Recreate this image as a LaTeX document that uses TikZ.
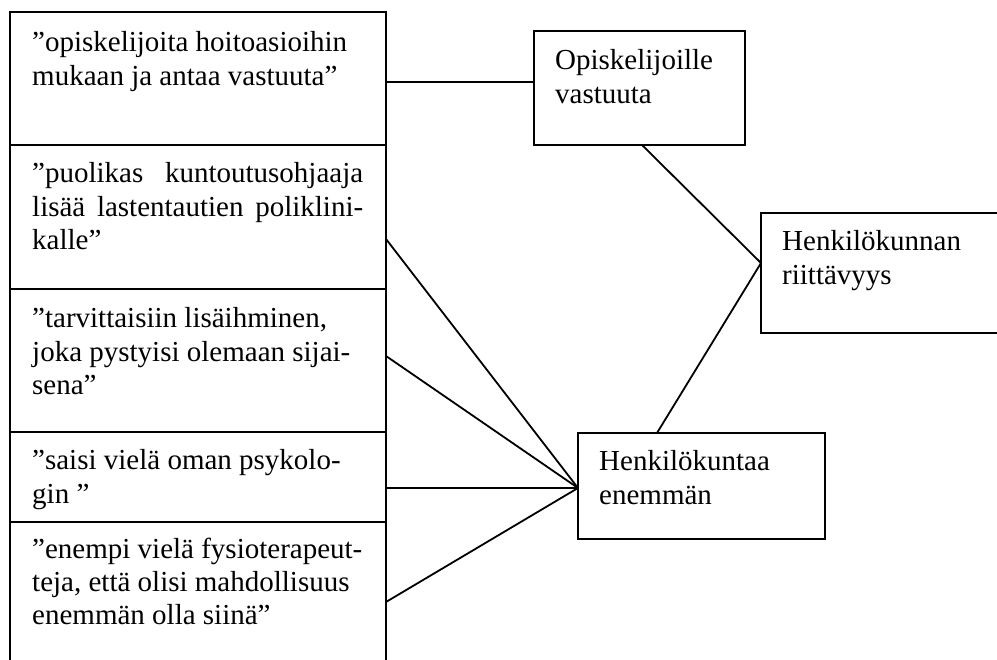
\documentclass[tikz,border=0pt]{standalone}
\usepackage{fontspec}
\setmainfont{Liberation Serif}
\begin{document}
\begin{tikzpicture}[x=1pt,y=-1pt,
  box/.style={draw, line width=1.8pt, rectangle, outer sep=0pt, inner sep=0pt, anchor=north west},
  txt/.style={anchor=base west, inner sep=0pt, font=\fontsize{29}{33.3}\selectfont},
  link/.style={line width=1.8pt}]
\useasboundingbox (0,0) rectangle (997,660);
\clip (0,0) rectangle (997,660);

% quotations, stacked in one column
\node[box, minimum width=376pt, minimum height=133pt] (q1) at (10,12) {};
\node[box, minimum width=376pt, minimum height=144pt] (q2) at (10,145) {};
\node[box, minimum width=376pt, minimum height=143pt] (q3) at (10,289) {};
\node[box, minimum width=376pt, minimum height=90pt]  (q4) at (10,432) {};
\node[box, minimum width=376pt, minimum height=160pt] (q5) at (10,522) {};

\node[txt] (t1) at ([shift={(22,40)}]q1.north west)
  {\parbox[t]{331pt}{\raggedright ”opiskelijoita hoitoasioihin\\mukaan ja antaa vastuuta”}};
\node[txt] (t2) at ([shift={(22,38)}]q2.north west)
  {\parbox[t]{331pt}{\makebox[331pt][s]{”puolikas kuntoutusohjaaja}\\\makebox[331pt][s]{lisää lastentautien poliklini-}\\kalle”}};
\node[txt] (t3) at ([shift={(22,39)}]q3.north west)
  {\parbox[t]{331pt}{\raggedright ”tarvittaisiin lisäihminen,\\joka pystyisi olemaan sijai-\\sena”}};
\node[txt] (t4) at ([shift={(22,38)}]q4.north west)
  {\parbox[t]{331pt}{\raggedright ”saisi vielä oman psykolo-\\gin ”}};
\node[txt] (t5) at ([shift={(22,36)}]q5.north west)
  {\parbox[t]{331pt}{\raggedright ”enempi vielä fysioterapeut-\\teja, että olisi mahdollisuus\\enemmän olla siinä”}};

% categories
\node[box, minimum width=211pt, minimum height=114pt] (s1) at (534,31) {};
\node[box, minimum width=247pt, minimum height=106pt] (s2) at (578,433) {};
\node[box, minimum width=260pt, minimum height=120pt] (top) at (761,213) {};

\node[txt] (u1) at ([shift={(21,39)}]s1.north west)
  {\parbox[t]{200pt}{\raggedright Opiskelijoille\\vastuuta}};
\node[txt] (u2) at ([shift={(21,38)}]s2.north west)
  {\parbox[t]{220pt}{\raggedright Henkilökuntaa\\enemmän}};
\node[txt] (u3) at ([shift={(21,38)}]top.north west)
  {\parbox[t]{220pt}{\raggedright Henkilökunnan\\riittävyys}};

% connectors
\draw[link] ([yshift=-3.5pt]q1.east) -- ([yshift=-3.5pt]q1.east -| s1.west);
\draw[link] ([yshift=-22pt]q2.east) -- ([yshift=-2pt]s2.west);
\draw[link] ([yshift=4.5pt]q3.east) -- ([yshift=-2pt]s2.west);
\draw[link] ([yshift=-11pt]q4.east) -- ([yshift=-2pt]s2.west);
\draw[link] (q5.east) -- ([yshift=-2pt]s2.west);
\draw[link] ([xshift=108pt]s1.south west) -- ([yshift=10pt]top.west);
\draw[link] ([xshift=79pt]s2.north west) -- ([yshift=10pt]top.west);
\end{tikzpicture}
\end{document}
